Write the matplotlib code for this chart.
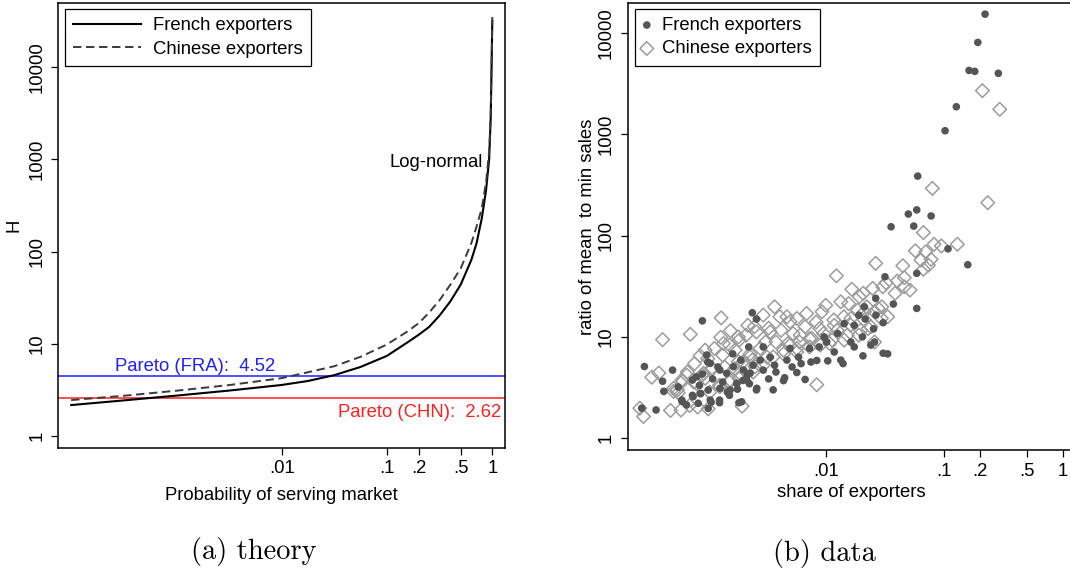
import matplotlib
matplotlib.use('Agg')
import matplotlib.pyplot as plt

plt.rcParams['font.family'] = ['Liberation Sans', 'DejaVu Sans']
plt.rcParams['font.size'] = 13.3

# ---- panel (a): theory ----
prob = [0.0001, 0.000316, 0.001, 0.00316, 0.01, 0.0178, 0.0316, 0.0562,
        0.1, 0.158, 0.2, 0.251, 0.316, 0.398, 0.501, 0.631,
        0.708, 0.794, 0.871, 0.933, 0.966, 0.984, 0.995, 1.0]
h_french = [2.18, 2.45, 2.76, 3.13, 3.6, 3.98, 4.6, 5.65,
            7.45, 10.5, 12.6, 15.3, 20.4, 28.8, 44, 81,
            123, 229, 457, 1000, 2800, 10000, 22400, 31600]
h_chinese = [2.47, 2.75, 3.12, 3.59, 4.27, 4.95, 5.75, 7.28,
             9.9, 13.8, 16.8, 21.9, 29.9, 43.6, 66, 123,
             186, 295, 562, 1200, 3160, 10700, 24000, 35500]
pareto_fra = 4.52
pareto_chn = 2.62

# ---- panel (b): data ----
fr_share = [0.000295, 0.00037, 0.00028, 0.00043, 0.00051, 0.00042, 0.00091, 0.0024, 0.0026, 0.000615,
            0.00075, 0.00088, 0.00108, 0.00127, 0.00154, 0.00148, 0.0018, 0.00185, 0.002, 0.00217,
            0.00227, 0.0026, 0.00244, 0.0028, 0.00297, 0.0033, 0.0034, 0.0037, 0.0038, 0.0036,
            0.0044, 0.0045, 0.0057, 0.0067, 0.0062, 0.0052, 0.0050, 0.0073, 0.0075, 0.0084,
            0.0104, 0.0097, 0.0102, 0.0118, 0.0126, 0.0134, 0.014, 0.0143, 0.0163, 0.0174,
            0.019, 0.0206, 0.0212, 0.024, 0.0258, 0.0305, 0.0333, 0.0305, 0.0265, 0.0215,
            0.00135, 0.00111, 0.00086, 0.00101, 0.00123, 0.00164, 0.00192, 0.00224, 0.00091, 0.00075,
            0.00057, 0.0059, 0.0088, 0.0174, 0.0204, 0.0253, 0.00297, 0.0047,
            0.00061, 0.00076, 0.00087, 0.00102, 0.00128, 0.00156, 0.00177, 0.00215, 0.00262, 0.00084,
            0.00106, 0.00127, 0.00195, 0.00067, 0.00081, 0.00099, 0.00106, 0.00128, 0.00146, 0.00166,
            0.00202, 0.0023, 0.00102,
            0.0316, 0.0586, 0.0264, 0.0372, 0.0586, 0.0356, 0.0553, 0.0498, 0.0586, 0.0775,
            0.0597, 0.1076, 0.158, 0.1016, 0.1265, 0.162, 0.181, 0.286, 0.192, 0.221]
fr_ratio = [5.1, 1.9, 1.98, 2.9, 4.7, 3.65, 14.4, 17.3, 15.0, 2.3,
            2.65, 2.75, 2.27, 2.24, 2.65, 2.85, 3.05, 2.24, 3.72, 4.2,
            3.45, 3.0, 5.25, 5.9, 7.96, 3.85, 6.3, 5.25, 4.5, 3.0,
            3.7, 3.95, 4.45, 3.8, 5.45, 5.05, 7.7, 7.7, 5.65, 5.85,
            5.8, 10.0, 8.9, 7.1, 10.8, 5.9, 5.45, 13.5, 8.9, 13.0,
            16.4, 6.5, 19.8, 8.3, 8.9, 6.9, 6.8, 13.8, 16.4, 15.0,
            3.58, 3.85, 3.32, 5.65, 5.05, 6.8, 5.9, 7.96, 4.3, 3.75,
            3.2, 6.3, 7.96, 7.96, 10.0, 12.0, 4.7, 5.9,
            2.38, 2.57, 2.77, 2.99, 3.11, 2.99, 3.48, 3.75, 3.11, 2.21,
            2.38, 2.38, 2.29, 2.13, 4.04, 6.62, 5.48, 4.71, 4.37, 5.08,
            4.71, 4.37, 1.97,
            39.2, 42.4, 24, 21.1, 19.1, 122, 124, 163, 179, 156,
            386, 74, 51.5, 1082, 1866, 4260, 4170, 3990, 8050, 15300]

cn_share = [0.00042, 0.00072, 0.00131, 0.0037, 0.00027, 0.00029, 0.00034, 0.00039, 0.00052, 0.00057,
            0.00049, 0.0006, 0.00071, 0.00083, 0.00102, 0.00197, 0.0084, 0.00062, 0.00068, 0.00078,
            0.00096, 0.00115, 0.00135, 0.00154, 0.00186, 0.00213, 0.0026, 0.00297, 0.0041, 0.005,
            0.0069, 0.01, 0.0134, 0.0166, 0.0192, 0.0277, 0.0212, 0.0163, 0.0118, 0.0089,
            0.0073, 0.0061, 0.005, 0.0038, 0.0034, 0.0028, 0.0023, 0.002, 0.0017, 0.0014,
            0.00111, 0.00091, 0.00077, 0.00105, 0.00127, 0.00154, 0.00186, 0.00244, 0.00297, 0.0036,
            0.0044, 0.0057, 0.0073, 0.0108, 0.0143, 0.019, 0.0228, 0.0295, 0.0258,
            0.0013, 0.00157, 0.0022, 0.00101, 0.00087,
            0.00052, 0.00056, 0.00061, 0.00067, 0.00093, 0.00109, 0.00172, 0.00183, 0.0023, 0.00253,
            0.00128, 0.00156, 0.00189, 0.00096, 0.00081, 0.00137, 0.00183,
            0.0123, 0.0156, 0.0093, 0.0057, 0.0047, 0.0025, 0.0033, 0.0042, 0.0053, 0.0067,
            0.0083, 0.0117, 0.0142, 0.0186, 0.0258, 0.0333, 0.0212, 0.0162, 0.0125, 0.0096,
            0.0076, 0.006, 0.0048, 0.0031, 0.0024, 0.0032, 0.0044, 0.0057, 0.009, 0.0113,
            0.0152, 0.0197, 0.024,
            0.0794, 0.233, 0.0667, 0.082, 0.0946, 0.129, 0.057, 0.0698, 0.0637, 0.0774,
            0.0735, 0.0667, 0.0264, 0.0447, 0.046, 0.0402, 0.0514, 0.0323, 0.0249, 0.0303,
            0.0385, 0.046, 0.0207, 0.0222, 0.0297, 0.210, 0.294]
cn_ratio = [9.4, 10.6, 15.4, 19.8, 1.98, 1.64, 4.0, 4.4, 2.9, 2.8,
            1.88, 1.9, 2.1, 2.03, 1.95, 2.07, 3.37, 3.65, 4.5, 5.45,
            7.4, 7.7, 6.6, 8.3, 9.3, 10.4, 11.2, 16.4, 15.8, 14.1,
            17.0, 20.5, 22.2, 29.5, 24.9, 19.1, 17.7, 15.2, 13.0, 12.1,
            9.6, 10.4, 8.3, 8.9, 11.2, 7.7, 6.8, 5.65, 4.85, 5.05,
            4.85, 4.2, 3.58, 2.85, 3.33, 3.58, 3.87, 4.5, 5.25, 6.34,
            6.8, 7.7, 7.96, 8.6, 9.3, 10.4, 12.1, 15.2, 8.9,
            9.9, 11.5, 13.0, 6.1, 6.5,
            3.11, 2.99, 3.75, 4.2, 4.37, 4.9, 7.42, 5.69, 6.37, 5.08,
            3.22, 3.75, 4.37, 3.9, 3.48, 8.6, 10.0,
            40.1, 21.3, 17.7, 15.2, 15.8, 12.6, 12.2, 11.6, 10.8, 12.6,
            14.0, 14.7, 15.8, 18.4, 17.7, 15.8, 14.7, 13.1, 11.6, 10.8,
            9.7, 8.9, 8.6, 8.9, 5.9, 6.3, 7.4, 7.1, 8.3, 9.3,
            10.4, 11.6, 12.6,
            292, 211, 107, 82, 79, 82, 70.8, 69, 57.3, 58.2,
            51, 46.4, 53.2, 50.4, 38.4, 35.6, 29, 34.2, 30.1, 31.2,
            26.9, 31.2, 26.9, 19.8, 19.8, 2690, 1760]

x_ticks = [0.01, 0.1, 0.2, 0.5, 1]
x_tick_labels = ['.01', '.1', '.2', '.5', '1']
y_ticks = [1, 10, 100, 1000, 10000]
y_tick_labels = ['1', '10', '100', '1000', '10000']

fig = plt.figure(figsize=(10.7, 5.69), dpi=100)
ax1 = fig.add_axes([0.0545, 0.2135, 0.417, 0.781])
ax2 = fig.add_axes([0.5868, 0.2091, 0.417, 0.7856])


def style_axes(ax):
    ax.set_xscale('log')
    ax.set_yscale('log')
    ax.minorticks_off()
    ax.set_xticks(x_ticks)
    ax.set_xticklabels(x_tick_labels)
    ax.set_yticks(y_ticks)
    ax.set_yticklabels(y_tick_labels, rotation=90, va='center')
    ax.tick_params(direction='out', length=5.3, width=0.9, pad=4)
    for sp in ax.spines.values():
        sp.set_linewidth(1.1)


# panel a
ax1.axhline(pareto_fra, color='#1f1fff', lw=1.1)
ax1.axhline(pareto_chn, color='#ff1f1f', lw=1.1)
ax1.plot(prob, h_french, color='black', lw=1.5, label='French exporters')
ax1.plot(prob, h_chinese, color='#3a3a3a', lw=1.4, linestyle=(0, (4.3, 2.4)),
         label='Chinese exporters')
style_axes(ax1)
ax1.set_xlim(7.55e-5, 1.306)
ax1.set_ylim(0.756, 49400)
ax1.text(2.6e-4, 5.1, 'Pareto (FRA):  %.2f' % pareto_fra, color='#1f1fff',
         ha='left', va='baseline')
ax1.text(1.21, 1.62, 'Pareto (CHN):  %.2f' % pareto_chn, color='#ff1f1f',
         ha='right', va='baseline')
ax1.text(0.82, 838, 'Log-normal', ha='right', va='baseline')
ax1.set_xlabel('Probability of serving market', va='center')
ax1.xaxis.set_label_coords(0.5, -0.108)
ax1.set_ylabel('H', va='center')
ax1.yaxis.set_label_coords(-0.10, 0.5)
leg1 = ax1.legend(loc='upper left', bbox_to_anchor=(0.0143, 0.9874), borderaxespad=0,
                  fancybox=False, edgecolor='black', framealpha=1, borderpad=0.45,
                  handlelength=3.7, handletextpad=0.65, labelspacing=0.35)
leg1.get_frame().set_linewidth(0.9)

# panel b
ax2.scatter(fr_share, fr_ratio, s=30, color='#555555', edgecolors='none', zorder=3,
            label='French exporters')
ax2.scatter(cn_share, cn_ratio, s=48, marker='D', facecolors='none',
            edgecolors='#9c9c9c', linewidths=1.1, zorder=2, label='Chinese exporters')
style_axes(ax2)
ax2.set_xlim(2.14e-4, 1.246)
ax2.set_ylim(0.765, 19700)
ax2.set_xlabel('share of exporters', va='center')
ax2.xaxis.set_label_coords(0.5, -0.094)
ax2.set_ylabel('ratio of mean  to min sales', va='center')
ax2.yaxis.set_label_coords(-0.09, 0.5)
leg2 = ax2.legend(loc='upper left', bbox_to_anchor=(0.0153, 0.9876), borderaxespad=0,
                  fancybox=False, edgecolor='black', framealpha=1, borderpad=0.45,
                  handlelength=0.41, handletextpad=0.64, labelspacing=0.35,
                  scatterpoints=1)
leg2.get_frame().set_linewidth(0.9)

fig.text(254 / 1070, 1 - 552 / 569, '(a) theory', family='cmr10', fontsize=20.5,
         ha='center', va='center')
fig.text(824.5 / 1070, 1 - 553 / 569, '(b) data', family='cmr10', fontsize=20.5,
         ha='center', va='center')

fig.savefig('out.png', dpi=100)
